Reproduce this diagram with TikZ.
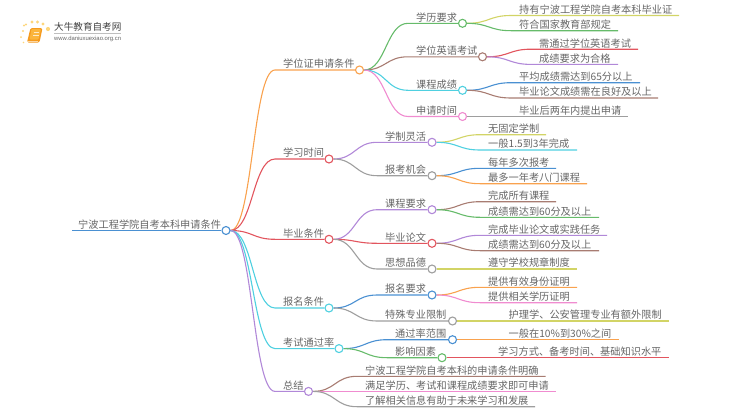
\documentclass[tikz,border=0pt]{standalone}
\usepackage{fontspec}
\setmainfont{Noto Sans CJK SC}
\newfontfamily\urlfont{Liberation Sans}
\usetikzlibrary{calc}
\definecolor{cOrange}{HTML}{F9A24E}
\definecolor{cRed}{HTML}{E2555E}
\definecolor{cCyan}{HTML}{4FD0E0}
\definecolor{cPurple}{HTML}{B188D8}
\definecolor{cGreen}{HTML}{66BB6A}
\definecolor{cBrown}{HTML}{A87C72}
\definecolor{cPink}{HTML}{F08CD0}
\definecolor{cGray}{HTML}{9E9E9E}
\definecolor{cYellow}{HTML}{D2D466}
\definecolor{cBlue}{HTML}{4A90D2}
\definecolor{cText}{HTML}{666666}
\definecolor{cDots}{HTML}{FDD67C}
\definecolor{cBook}{HTML}{F59A1E}
\definecolor{cBookTop}{HTML}{FBB53C}
\tikzset{
  x=1pt,y=-1pt,
  label/.style={anchor=base west,inner sep=0pt,font=\fontsize{10.2}{12}\selectfont,text=cText},
  dot/.style={circle,draw,fill=white,line width=1.1pt,minimum size=8pt,inner sep=0pt},
  conn/.style={line width=1.1pt},
}
% \link{from}{start of straight run}{end of straight run}{colour}
\newcommand\link[4]{%
  \draw[conn,#4] let \p1=(#1),\p2=(#2),\n1={(\x1+\x2)/2} in
    (#1) .. controls (\n1,\y1) and (\n1,\y2) .. (#2) -- (#3);}
% \branch{name}{parent}{colour}{xs}{xcircle}{y}{xtext}{text}
\newcommand\branch[8]{%
  \coordinate (#1-s) at (#4,#6);
  \node[dot,draw=#3] (#1) at (#5,#6) {};
  \node[label] (#1-t) at (#7,#6-2.1) {#8};
  \begin{pgfonlayer}{lines}\link{#2.east}{#1-s}{#1.west}{#3}\end{pgfonlayer}}
% \leaf{name}{parent}{colour}{xs}{xend}{y}{xtext}{text}
\newcommand\leaf[8]{%
  \coordinate (#1-s) at (#4,#6);
  \coordinate (#1-e) at (#5,#6);
  \node[label] (#1-t) at (#7,#6-2.1) {#8};
  \begin{pgfonlayer}{lines}\link{#2.east}{#1-s}{#1-e}{#3}\end{pgfonlayer}}
\pgfdeclarelayer{lines}
\pgfsetlayers{lines,main}
\begin{document}
\begin{tikzpicture}
\useasboundingbox (0,0) rectangle (750,410);
% logo
\foreach \px/\py/\r in {24/25.5/1.1,26/24.5/1.2,32/22/1.7,37.5/22/1.7,43/24/1.7,48/29/2.1,23/31/1.2,21/37/1,23.5/42.5/.8}
  \fill[cDots] (\px,\py) circle (\r);
\fill[rounded corners=1.5pt,cBook] (30.5,28) -- (42.5,28) -- (39.5,42.5) -- (27,42.5) -- cycle;
\fill[rounded corners=1pt,cBookTop] (31.5,29) -- (41,29) -- (38.5,39.5) -- (29.5,39.5) -- cycle;
\draw[white!70!cBookTop,line width=.6pt] (33.5,32.5) -- (39,32.5) (33,35) -- (38.5,35);
\draw[white!60!cBook,line width=.5pt] (28.3,41) -- (38.3,41);
\node[anchor=base west,inner sep=0pt,font=\fontsize{9.6}{11}\selectfont,text=black!75] (logoa) at (54,30.5) {大牛教育自考网};
\draw[black!25,line width=.4pt] (54,33.2) -- (121,33.2);
\node[anchor=base west,inner sep=0pt,font=\urlfont\fontsize{5.9}{7}\selectfont,text=black!60] (logob) at (54,40.6) {www.daniuxuexiao.org.cn};
% root
\coordinate (root-s) at (72,230.5);
\node[dot,draw=cBlue] (root) at (226,230.5) {};
\node[label] (root-t) at (78,228.4) {宁波工程学院自考本科申请条件};
\begin{pgfonlayer}{lines}\draw[conn,cBlue] (root-s) -- (root.west);\end{pgfonlayer}
% level 1
\branch{a}{root}{cOrange}{275}{359.5}{70}{283}{学位证申请条件}
\branch{b}{root}{cRed}{275}{329}{159}{283}{学习时间}
\branch{c}{root}{cRed}{275}{329}{239.3}{283}{毕业条件}
\branch{d}{root}{cCyan}{275}{329}{308}{283}{报名条件}
\branch{e}{root}{cCyan}{275}{339}{348.6}{283}{考试通过率}
\branch{f}{root}{cPurple}{275}{308.5}{391.4}{283}{总结}
% under a
\branch{a1}{a}{cGreen}{408}{462.5}{23.3}{416}{学历要求}
\branch{a2}{a}{cBrown}{408}{482.5}{56.8}{416}{学位英语考试}
\branch{a3}{a}{cCyan}{408}{462.5}{90.3}{416}{课程成绩}
\branch{a4}{a}{cPink}{408}{462.5}{116.5}{416}{申请时间}
\leaf{a11}{a1}{cYellow}{511}{679}{15.5}{519}{持有宁波工程学院自考本科毕业证}
\leaf{a12}{a1}{cGreen}{511}{618}{30.7}{519}{符合国家教育部规定}
\leaf{a21}{a2}{cRed}{531}{638}{49.2}{539}{需通过学位英语考试}
\leaf{a22}{a2}{cPurple}{531}{618}{64.4}{539}{成绩要求为合格}
\leaf{a31}{a3}{cBlue}{511}{640}{82.7}{519}{平均成绩需达到65分以上}
\leaf{a32}{a3}{cBrown}{511}{658}{98}{519}{毕业论文成绩需在良好及以上}
\leaf{a41}{a4}{cGray}{511}{628}{116.5}{519}{毕业后两年内提出申请}
% under b
\branch{b1}{b}{cPurple}{377}{432}{142.3}{385}{学制灵活}
\branch{b2}{b}{cGray}{377}{432}{175.7}{385}{报考机会}
\leaf{b11}{b1}{cYellow}{480}{546}{134.7}{488}{无固定学制}
\leaf{b12}{b1}{cCyan}{480}{577}{150}{488}{一般1.5到3年完成}
\leaf{b21}{b2}{cBlue}{480}{556}{168.3}{488}{每年多次报考}
\leaf{b22}{b2}{cOrange}{480}{587}{183.7}{488}{最多一年考八门课程}
% under c
\branch{c1}{c}{cPurple}{377}{432}{209.7}{385}{课程要求}
\branch{c2}{c}{cRed}{377}{432}{243.3}{385}{毕业论文}
\branch{c3}{c}{cGray}{377}{432}{269}{385}{思想品德}
\leaf{c11}{c1}{cBrown}{480}{556}{201.7}{488}{完成所有课程}
\leaf{c12}{c1}{cGreen}{480}{599}{217.3}{488}{成绩需达到60分及以上}
\leaf{c21}{c2}{cPurple}{480}{607}{235.3}{488}{完成毕业论文或实践任务}
\leaf{c22}{c2}{cBrown}{480}{599}{250.7}{488}{成绩需达到60分及以上}
\leaf{c31}{c3}{cYellow}{480}{577}{269}{488}{遵守学校规章制度}
% under d
\branch{d1}{d}{cBlue}{377}{432}{295}{385}{报名要求}
\branch{d2}{d}{cGray}{377}{452.5}{321}{385}{特殊专业限制}
\leaf{d11}{d1}{cOrange}{480}{577}{287.3}{488}{提供有效身份证明}
\leaf{d12}{d1}{cPink}{480}{577}{302.7}{488}{提供相关学历证明}
\leaf{d21}{d2}{cYellow}{500}{668.5}{321}{508.5}{护理学、公安管理专业有额外限制}
% under e
\branch{e1}{e}{cBlue}{387}{452.5}{339.7}{395}{通过率范围}
\branch{e2}{e}{cGreen}{387}{442}{357.7}{395}{影响因素}
\leaf{e11}{e1}{cOrange}{500}{619}{339.7}{508.5}{一般在10\%到30\%之间}
\leaf{e21}{e2}{cRed}{490}{668.5}{357.7}{498}{学习方式、备考时间、基础知识水平}
% under f
\leaf{f1}{f}{cBrown}{357}{545.5}{376.3}{365}{宁波工程学院自考本科的申请条件明确}
\leaf{f2}{f}{cPink}{357}{556}{391.4}{365}{满足学历、考试和课程成绩要求即可申请}
\leaf{f3}{f}{cGray}{357}{535}{406.7}{365}{了解相关信息有助于未来学习和发展}
\end{tikzpicture}
\end{document}
